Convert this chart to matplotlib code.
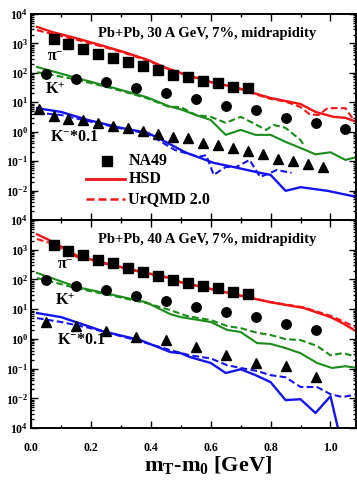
import matplotlib
matplotlib.use("Agg")
import matplotlib.pyplot as plt
from matplotlib.ticker import FixedLocator, LogLocator, NullFormatter, MultipleLocator

plt.rcParams["font.family"] = "Liberation Serif"
plt.rcParams["font.weight"] = "bold"
plt.rcParams["mathtext.fontset"] = "custom"
plt.rcParams["mathtext.rm"] = "Liberation Serif:bold"
plt.rcParams["mathtext.it"] = "Liberation Serif:bold"
plt.rcParams["mathtext.bf"] = "Liberation Serif:bold"

# ---- NA49 data, 30 A GeV ----
pi_x_30 = [0.075, 0.125, 0.175, 0.225, 0.275, 0.325, 0.375, 0.425, 0.475, 0.525, 0.575, 0.625, 0.675, 0.725]
pi_y_30 = [1410, 955, 650, 436, 316, 233, 170, 125, 85, 72, 53, 46, 33, 31]
kp_x_30 = [0.05, 0.15, 0.25, 0.35, 0.45, 0.55, 0.65, 0.75, 0.85, 0.95, 1.05]
kp_y_30 = [91, 62, 49, 31, 21, 13, 7.4, 5.5, 2.9, 2.0, 1.24]
km_x_30 = [0.025, 0.075, 0.125, 0.175, 0.225, 0.275, 0.325, 0.375, 0.425, 0.475,
           0.525, 0.575, 0.625, 0.675, 0.725, 0.775, 0.825, 0.875, 0.925, 0.975]
km_y_30 = [5.9, 3.4, 2.7, 2.5, 2.0, 1.56, 1.34, 1.05, 0.83, 0.66,
           0.62, 0.42, 0.36, 0.28, 0.22, 0.17, 0.12, 0.10, 0.080, 0.063]

# ---- HSD / UrQMD, 30 A GeV ----
hsd_pi_x_30 = [0.02, 0.07, 0.15, 0.23, 0.31, 0.39, 0.45, 0.52, 0.60, 0.69, 0.74, 0.80, 0.90, 0.95, 1.01, 1.05, 1.09]
hsd_pi_y_30 = [3630, 2450, 1510, 890, 510, 275, 148, 85, 49, 31, 21, 14, 8.7, 4.7, 3.2, 2.95, 2.1]
urq_pi_x_30 = [0.02, 0.07, 0.15, 0.23, 0.31, 0.39, 0.45, 0.52, 0.60, 0.69, 0.74, 0.80, 0.85, 0.90, 0.93, 0.96, 0.99, 1.05, 1.07, 1.09]
urq_pi_y_30 = [2800, 2100, 1350, 820, 480, 260, 145, 82, 48, 30, 20, 13, 10.5, 6.9, 3.9, 3.7, 6.3, 6.3, 3.2, 2.1]

hsd_kp_x_30 = [0.02, 0.15, 0.275, 0.385, 0.46, 0.505, 0.55, 0.60, 0.65, 0.70, 0.75, 0.80, 0.85, 0.90, 0.95, 1.00, 1.05, 1.09]
hsd_kp_y_30 = [158, 68, 31, 15, 7.4, 5.5, 3.7, 2.5, 0.78, 1.15, 0.78, 0.78, 0.45, 0.28, 0.17, 0.20, 0.11, 0.14]
urq_kp_x_30 = [0.02, 0.15, 0.275, 0.385, 0.46, 0.50, 0.55, 0.60, 0.65, 0.70, 0.74, 0.785, 0.81, 0.85, 0.90, 0.91]
urq_kp_y_30 = [105, 60, 29, 14, 7.0, 6.9, 3.7, 3.2, 2.0, 3.2, 2.0, 1.15, 1.7, 1.35, 0.52, 0.36]

hsd_km_x_30 = [0.02, 0.10, 0.19, 0.30, 0.39, 0.45, 0.50, 0.52, 0.61, 0.69, 0.75, 0.80, 0.85, 0.90, 0.99, 1.09]
hsd_km_y_30 = [6.3, 4.7, 2.5, 1.35, 0.91, 0.45, 0.24, 0.19, 0.087, 0.059, 0.043, 0.034, 0.0098, 0.013, 0.0098, 0.006]
urq_km_x_30 = [0.02, 0.10, 0.19, 0.30, 0.39, 0.44, 0.48, 0.56, 0.585, 0.61, 0.65, 0.685, 0.73, 0.765, 0.80, 0.82, 0.87]
urq_km_y_30 = [4.4, 3.7, 2.3, 1.3, 0.85, 0.42, 0.24, 0.14, 0.16, 0.034, 0.063, 0.063, 0.11, 0.029, 0.040, 0.050, 0.040]

# ---- NA49 data, 40 A GeV ----
pi_x_40 = [0.075, 0.125, 0.175, 0.225, 0.275, 0.325, 0.375, 0.425, 0.475, 0.525, 0.575, 0.625, 0.675, 0.725]
pi_y_40 = [1450, 910, 660, 445, 355, 240, 178, 130, 95, 76, 60, 52, 38, 32]
kp_x_40 = [0.05, 0.15, 0.25, 0.35, 0.45, 0.55, 0.65, 0.75, 0.85, 0.95]
kp_y_40 = [95, 60, 44, 28, 19, 11.7, 7.9, 5.4, 3.2, 2.0]
km_x_40 = [0.05, 0.15, 0.25, 0.35, 0.45, 0.55, 0.65, 0.75, 0.85, 0.95]
km_y_40 = [3.7, 2.7, 1.8, 1.15, 0.91, 0.52, 0.28, 0.155, 0.12, 0.051]

# ---- HSD / UrQMD, 40 A GeV ----
hsd_pi_x_40 = [0.02, 0.07, 0.155, 0.275, 0.385, 0.465, 0.50, 0.575, 0.69, 0.80, 0.91, 1.00, 1.04, 1.09]
hsd_pi_y_40 = [3300, 1900, 620, 300, 166, 112, 81, 55, 30, 17, 11, 5.4, 3.4, 1.7]
urq_pi_x_40 = [0.02, 0.07, 0.155, 0.275, 0.385, 0.465, 0.50, 0.575, 0.69, 0.80, 0.91, 1.00, 1.04, 1.09]
urq_pi_y_40 = [2300, 1600, 560, 290, 160, 110, 80, 54, 30, 17.5, 11.5, 6.0, 4.0, 2.3]

hsd_kp_x_40 = [0.02, 0.155, 0.275, 0.385, 0.465, 0.50, 0.52, 0.60, 0.655, 0.70, 0.755, 0.80, 0.85, 0.90, 0.955, 1.005, 1.05, 1.09]
hsd_kp_y_40 = [166, 55, 30, 17, 6.8, 5.4, 5.0, 3.7, 2.0, 1.7, 0.72, 0.68, 0.49, 0.33, 0.155, 0.105, 0.12, 0.105]
urq_kp_x_40 = [0.02, 0.155, 0.275, 0.385, 0.465, 0.52, 0.60, 0.655, 0.70, 0.755, 0.80, 0.85, 0.90, 0.955, 1.00, 1.04, 1.09]
urq_kp_y_40 = [112, 50, 28, 16, 9.3, 5.9, 4.3, 2.7, 2.3, 1.6, 1.35, 0.98, 0.91, 0.58, 0.28, 0.33, 0.25]

hsd_km_x_40 = [0.02, 0.10, 0.19, 0.24, 0.365, 0.465, 0.50, 0.53, 0.60, 0.65, 0.70, 0.75, 0.80, 0.85, 0.90, 0.95, 1.00, 1.03]
hsd_km_y_40 = [7.4, 5.4, 2.7, 1.8, 0.91, 0.36, 0.33, 0.245, 0.155, 0.071, 0.095, 0.060, 0.035, 0.0087, 0.0093, 0.0032, 0.0117, 0.0006]
urq_km_x_40 = [0.02, 0.10, 0.19, 0.365, 0.465, 0.53, 0.60, 0.655, 0.70, 0.755, 0.80, 0.85, 0.90, 0.955, 1.00, 1.04, 1.09]
urq_km_y_40 = [5.0, 3.7, 2.4, 0.83, 0.42, 0.28, 0.22, 0.13, 0.105, 0.083, 0.060, 0.051, 0.024, 0.024, 0.0138, 0.011, 0.0138]

y_decades = [1e4, 1e3, 1e2, 1e1, 1e0, 1e-1, 1e-2, 1e-3]
top_ylabels = ["$10^{4}$", "$10^{3}$", "$10^{2}$", "$10^{1}$", "$10^{0}$", "$10^{-1}$", "$10^{-2}$", ""]
bot_ylabels = ["$10^{4}$", "$10^{3}$", "$10^{2}$", "$10^{1}$", "$10^{0}$", "$10^{-1}$", "$10^{-2}$", "$10^{4}$"]

RED, GREEN, BLUE = "#f21414", "#1a8c1a", "#1414f0"
DASH = (0, (3.2, 1.6))

fig = plt.figure(figsize=(3.57, 4.82), dpi=100)
ax1 = fig.add_axes([0.087, 0.5436, 0.910, 0.4274])
ax2 = fig.add_axes([0.087, 0.112, 0.910, 0.4315])


def panel(ax, d, ylabels, title):
    (pix, piy, kpx, kpy, kmx, kmy, hp, up, hk, uk, hm, um) = d
    ax.plot(*hp, color=RED, lw=1.7)
    ax.plot(*up, color=RED, lw=1.5, ls=DASH)
    ax.plot(*hk, color=GREEN, lw=1.5)
    ax.plot(*uk, color=GREEN, lw=1.5, ls=DASH)
    ax.plot(*hm, color=BLUE, lw=1.7)
    ax.plot(*um, color=BLUE, lw=1.5, ls=DASH)
    ax.plot(pix, piy, "s", color="black", ms=6.5)
    ax.plot(kpx, kpy, "o", color="black", ms=6.8)
    ax.plot(kmx, kmy, "^", color="black", ms=7)
    ax.set_yscale("log")
    ax.set_xlim(0.0, 1.085)
    ax.set_ylim(1e-3, 1e4)
    ax.yaxis.set_major_locator(FixedLocator(y_decades))
    ax.set_yticklabels(ylabels)
    ax.yaxis.set_minor_locator(LogLocator(base=10, subs=range(2, 10), numticks=20))
    ax.yaxis.set_minor_formatter(NullFormatter())
    ax.xaxis.set_major_locator(MultipleLocator(0.2))
    ax.xaxis.set_minor_locator(MultipleLocator(0.1))
    ax.tick_params(which="both", direction="in", top=True, right=True, width=1.0,
                   labelsize=8.5, pad=2)
    ax.tick_params(axis="x", pad=10)
    ax.tick_params(which="major", length=5)
    ax.tick_params(which="minor", length=2.5)
    for s in ax.spines.values():
        s.set_linewidth(1.4)
    ax.text(0.206, 0.905, title, transform=ax.transAxes, fontsize=10.5,
            fontweight="bold", va="center", ha="left")


panel(ax1, (pi_x_30, pi_y_30, kp_x_30, kp_y_30, km_x_30, km_y_30,
            (hsd_pi_x_30, hsd_pi_y_30), (urq_pi_x_30, urq_pi_y_30),
            (hsd_kp_x_30, hsd_kp_y_30), (urq_kp_x_30, urq_kp_y_30),
            (hsd_km_x_30, hsd_km_y_30), (urq_km_x_30, urq_km_y_30)),
      top_ylabels, "Pb+Pb, 30 A GeV, 7%, midrapidity")
panel(ax2, (pi_x_40, pi_y_40, kp_x_40, kp_y_40, km_x_40, km_y_40,
            (hsd_pi_x_40, hsd_pi_y_40), (urq_pi_x_40, urq_pi_y_40),
            (hsd_kp_x_40, hsd_kp_y_40), (urq_kp_x_40, urq_kp_y_40),
            (hsd_km_x_40, hsd_km_y_40), (urq_km_x_40, urq_km_y_40)),
      bot_ylabels, "Pb+Pb, 40 A GeV, 7%, midrapidity")
ax1.tick_params(labelbottom=False)

# species labels
ax1.text(0.08, 350, "π$^{-}$", fontsize=11.5, ha="center", va="center")
ax1.text(0.08, 26, "K$^{+}$", fontsize=11.5, ha="center", va="center")
ax1.text(0.062, 0.66, "K$^{-}$*0.1", fontsize=11.5, ha="left", va="center")
ax2.text(0.115, 300, "π$^{-}$", fontsize=11.5, ha="center", va="center")
ax2.text(0.115, 20, "K$^{+}$", fontsize=11.5, ha="center", va="center")
ax2.text(0.088, 0.91, "K$^{-}$*0.1", fontsize=11.5, ha="left", va="center")

# legend, drawn by hand in the upper panel
ax1.plot([0.255], [0.105], "s", color="black", ms=7)
ax1.text(0.325, 0.105, "NA49", fontsize=11.5, va="center")
ax1.plot([0.185, 0.315], [0.0245, 0.0245], color=RED, lw=2.0)
ax1.text(0.325, 0.0245, "HSD", fontsize=11.5, va="center")
ax1.plot([0.185, 0.315], [0.0052, 0.0052], color=RED, lw=1.8, ls=DASH)
ax1.text(0.325, 0.0052, "UrQMD 2.0", fontsize=11.5, va="center")

ax2.set_xlabel("m$_{T}$-m$_{0}$ [GeV]", fontsize=16, fontweight="bold", labelpad=0, x=0.545)

fig.savefig("out.png", dpi=100)
